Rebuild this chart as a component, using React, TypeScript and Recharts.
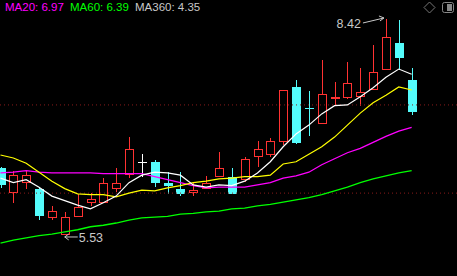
import { ComposedChart, Bar, Line, XAxis, YAxis, ReferenceLine, ReferenceDot } from 'recharts';

// daily candles, oldest first (first one is cut off at the left edge)
const opens = [6.43, 6.09, 6.23, 6.15, 5.76, 5.53, 5.77, 5.96, 5.96, 6.15, 6.33, 6.51, 6.51, 6.23, 6.15, 6.09, 6.15, 6.31, 6.31, 6.27, 6.57, 6.6, 6.77, 7.51, 7.235, 7.02, 7.35, 7.36, 7.38, 7.47, 7.74, 8.1, 7.6];
const closes = [6.2, 6.33, 6.33, 5.78, 5.85, 5.77, 5.9, 6.01, 6.23, 6.23, 6.68, 6.51, 6.23, 6.19, 6.08, 6.13, 6.23, 6.43, 6.08, 6.55, 6.68, 6.79, 7.47, 6.76, 7.225, 7.42, 7.38, 7.56, 7.44, 7.71, 8.18, 7.9, 7.18];
const highs = [6.44, 6.39, 6.39, 6.16, 5.92, 5.84, 6.08, 6.09, 6.29, 6.43, 6.84, 6.61, 6.53, 6.37, 6.37, 6.23, 6.32, 6.64, 6.43, 6.57, 6.79, 6.83, 7.47, 7.6, 7.46, 7.87, 7.58, 7.84, 7.76, 8.07, 8.42, 8.41, 7.76];
const lows = [6.16, 5.96, 6.15, 5.73, 5.73, 5.53, 5.77, 5.92, 5.96, 6.11, 6.29, 6.31, 6.17, 6.08, 6.05, 6.05, 6.15, 6.31, 6.08, 6.24, 6.44, 6.57, 6.73, 6.75, 6.85, 7.02, 7.26, 7.35, 7.26, 7.47, 7.74, 7.74, 7.14];

// moving averages
const ma5 = [6.29, 6.23, 6.27, 6.17, 6.05, 5.99, 5.93, 5.88, 5.96, 6.05, 6.23, 6.33, 6.37, 6.36, 6.33, 6.2, 6.17, 6.2, 6.19, 6.25, 6.36, 6.51, 6.71, 6.88, 7.0, 7.15, 7.26, 7.27, 7.38, 7.5, 7.64, 7.75, 7.68];
const ma10 = [6.6, 6.56, 6.49, 6.37, 6.25, 6.15, 6.08, 6.07, 6.07, 6.04, 6.09, 6.13, 6.12, 6.16, 6.19, 6.23, 6.25, 6.28, 6.29, 6.31, 6.31, 6.33, 6.48, 6.51, 6.61, 6.71, 6.84, 7.0, 7.16, 7.3, 7.4, 7.51, 7.47];
const ma20 = [6.36, 6.37, 6.39, 6.37, 6.36, 6.36, 6.36, 6.36, 6.35, 6.35, 6.35, 6.35, 6.31, 6.27, 6.23, 6.19, 6.16, 6.17, 6.17, 6.17, 6.2, 6.23, 6.29, 6.32, 6.37, 6.47, 6.55, 6.63, 6.69, 6.77, 6.85, 6.92, 6.97];
const ma60 = [5.42, 5.46, 5.49, 5.52, 5.54, 5.57, 5.6, 5.64, 5.66, 5.69, 5.73, 5.76, 5.77, 5.78, 5.81, 5.82, 5.84, 5.85, 5.88, 5.89, 5.92, 5.94, 5.97, 6.0, 6.03, 6.07, 6.12, 6.17, 6.23, 6.28, 6.32, 6.36, 6.39];

const legend = [
  { label: 'MA20: 6.97', color: '#ff00ff' },
  { label: 'MA60: 6.39', color: '#00ff00' },
  { label: 'MA360: 4.35', color: '#c8c8c8' },
];
const gridPrices = [7.27, 6.09];
const maxIdx = 30;
const minIdx = 5;

const W = 457;
const H = 276;
const RED = '#ff3232';
const CYAN = '#54fcfc';
const FONT = '"Liberation Sans", Arial, sans-serif';

const data = opens.map((o, i) => ({
  i,
  open: o,
  close: closes[i],
  high: highs[i],
  low: lows[i],
  range: [lows[i], highs[i]],
  ma5: ma5[i],
  ma10: ma10[i],
  ma20: ma20[i],
  ma60: ma60[i],
}));

function Candle(props: any) {
  const { x, y, width, height, payload } = props;
  const { open, close, high, low } = payload;
  const py = (p: number) => y + ((high - p) / (high - low)) * height;
  const L = Math.round(x + width / 2) - 4;
  const wx = L + 4.5;
  const top = py(Math.max(open, close));
  const bot = py(Math.min(open, close));
  const yHi = Math.round(y);
  const yLo = Math.round(y + height);

  // doji: open and close (nearly) equal
  if (bot - top < 1) {
    const color = close > open ? RED : close < open ? CYAN : '#ffffff';
    const my = Math.round(top) + 0.5;
    return (
      <g>
        <line x1={wx} x2={wx} y1={yHi} y2={yLo} stroke={color} />
        <line x1={L} x2={L + 9} y1={my} y2={my} stroke={color} />
      </g>
    );
  }
  // up day: hollow red body
  if (close > open) {
    const t = Math.round(top) + 0.5;
    const b = Math.round(bot) - 0.5;
    return (
      <g>
        <line x1={wx} x2={wx} y1={yHi} y2={t} stroke={RED} />
        <line x1={wx} x2={wx} y1={b} y2={yLo} stroke={RED} />
        <rect x={L + 0.5} y={t} width={8} height={b - t} fill="#000" stroke={RED} />
      </g>
    );
  }
  // down day: filled cyan body
  return (
    <g>
      <line x1={wx} x2={wx} y1={yHi} y2={yLo} stroke={CYAN} />
      <rect x={L} y={Math.round(top)} width={9} height={Math.round(bot) - Math.round(top)} fill={CYAN} />
    </g>
  );
}

function HighMark(props: any) {
  const { cx, cy } = props;
  const tx = cx - 2;
  const ty = cy - 1;
  return (
    <g>
      <text x={cx - 25} y={cy + 9} fill="#c8c8c8" fontSize={12.5} fontFamily={FONT} textAnchor="end">
        {highs[maxIdx].toFixed(2)}
      </text>
      <line x1={cx - 23} y1={cy + 4} x2={tx} y2={ty} stroke="#c8c8c8" />
      <line x1={tx - 5} y1={ty - 2} x2={tx} y2={ty} stroke="#c8c8c8" />
      <line x1={tx - 4} y1={ty + 3} x2={tx} y2={ty} stroke="#c8c8c8" />
    </g>
  );
}

function LowMark(props: any) {
  const { cx, cy } = props;
  const tx = cx;
  const ty = cy + 2;
  return (
    <g>
      <line x1={tx} y1={ty} x2={tx + 13} y2={ty} stroke="#c8c8c8" />
      <line x1={tx} y1={ty} x2={tx + 4} y2={ty - 3} stroke="#c8c8c8" />
      <line x1={tx} y1={ty} x2={tx + 4} y2={ty + 3} stroke="#c8c8c8" />
      <text x={tx + 14} y={cy + 7} fill="#c8c8c8" fontSize={12.5} fontFamily={FONT}>
        {lows[minIdx].toFixed(2)}
      </text>
    </g>
  );
}

export default function App() {
  return (
    <div style={{ position: 'relative', width: W, height: H, background: '#000', overflow: 'hidden' }}>
      <style>{'body{margin:0;background:#000}'}</style>
      <ComposedChart width={W} height={H} data={data} margin={{ top: 0, right: 0, bottom: 0, left: 0 }}>
        <XAxis dataKey="i" type="number" domain={[-0.039, 35.53]} hide allowDataOverflow />
        <YAxis type="number" domain={[4.981, 8.674]} hide allowDataOverflow />
        {gridPrices.map((p) => (
          <ReferenceLine key={p} y={p} stroke="#8a1a1a" strokeDasharray="1 3" />
        ))}
        <Line dataKey="ma60" stroke="#00ff00" strokeWidth={1.3} dot={false} activeDot={false} isAnimationActive={false} />
        <Line dataKey="ma20" stroke="#ff00ff" strokeWidth={1.3} dot={false} activeDot={false} isAnimationActive={false} />
        <Line dataKey="ma10" stroke="#ffff00" strokeWidth={1.2} dot={false} activeDot={false} isAnimationActive={false} />
        <Line dataKey="ma5" stroke="#ffffff" strokeWidth={1.2} dot={false} activeDot={false} isAnimationActive={false} />
        <Bar dataKey="range" barSize={9} shape={<Candle />} activeBar={false} isAnimationActive={false} />
        <ReferenceDot x={maxIdx} y={highs[maxIdx]} r={0} shape={<HighMark />} />
        <ReferenceDot x={minIdx} y={lows[minIdx]} r={0} shape={<LowMark />} />
      </ComposedChart>
      <svg width={W} height={H} style={{ position: 'absolute', left: 0, top: 0, pointerEvents: 'none' }}>
        {legend.map((d, k) => (
          <text key={d.label} x={[5, 70, 135][k]} y={11} fill={d.color} fontSize={11.5} fontFamily={FONT}>
            {d.label}
          </text>
        ))}
        <path d="M429.5 2 L435 7.5 L429.5 13 L424 7.5 Z" fill="none" stroke="#777" />
        <rect x={442.5} y={2.5} width={11} height={10} rx={2} fill="none" stroke="#888" />
        <rect x={447} y={4} width={5} height={7} fill="#888" />
      </svg>
    </div>
  );
}
